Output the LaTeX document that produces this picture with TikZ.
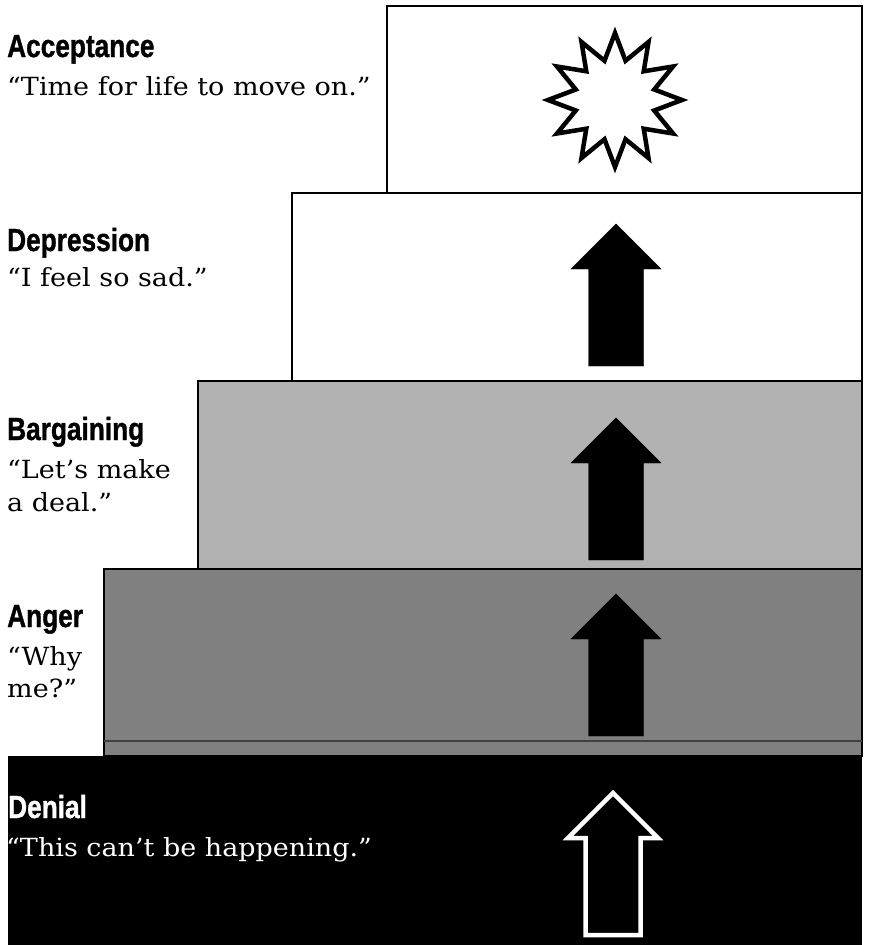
\documentclass[tikz,border=0pt]{standalone}
\usepackage{fontspec}
\usepackage{graphicx}
\setmainfont{DejaVu Serif}[FakeStretch=1.08]
\newfontfamily\headfont{Liberation Sans}[BoldFeatures={FakeBold=1.2}]
\usetikzlibrary{shapes.geometric,positioning}
\definecolor{LightScreen}{gray}{0.70}
\definecolor{DarkScreen}{gray}{0.50}
\definecolor{BandGray}{gray}{0.25}
% up arrow: #1 centre x, #2 tip y, #3 style
\newcommand{\stagearrow}[3]{%
  \draw[#3] (#1,#2) -- ++(45,45) -- ++(-17.5,0) -- ++(0,97) -- ++(-55,0)
    -- ++(0,-97) -- ++(-17.5,0) -- cycle;}

\begin{document}
\begin{tikzpicture}[
      x=1pt,
      y=-1pt,
      stage/.style={draw=black,line width=1.4pt},
      heading/.style={anchor=base west,inner sep=0pt,font=\headfont\bfseries\fontsize{32}{32}\selectfont},
      quote/.style={anchor=base west,inner sep=0pt,font=\fontsize{25}{25}\selectfont},
      solidarrow/.style={fill=black},
      hollowarrow/.style={draw=white,line width=4.5pt,line join=miter}
    ]
      \useasboundingbox (0,0) rectangle (869,945);
      \fill[white] (0,0) rectangle (869,945);
      % the five stages, top to bottom
      \draw[stage] (387,6) rectangle (862,193);
      \draw[stage] (292,193) rectangle (862,381);
      \draw[stage,fill=LightScreen] (198,381) rectangle (862,569);
      \draw[stage,fill=DarkScreen] (104,569) rectangle (862,756);
      \draw[line width=2pt,draw=BandGray] (104,741) -- (862,741);
      \fill[black] (8,756) rectangle (862,945);
      % labels
      \node[heading] (acc) at (7,57) {\scalebox{0.82}[1]{Acceptance}};
      \node[quote] (accq) at (7,95) {“Time for life to move on.”};
      \node[heading] (dep) at (7,251) {\scalebox{0.82}[1]{Depression}};
      \node[quote] (depq) at (7,286) {“I feel so sad.”};
      \node[heading] (bar) at (7,440) {\scalebox{0.82}[1]{Bargaining}};
      \node[quote] (barq) at (7,478) {“Let’s make};
      \node[quote] (barq2) at (7,511) {a deal.”};
      \node[heading] (ang) at (7,627) {\scalebox{0.82}[1]{Anger}};
      \node[quote] (angq) at (7,665) {“Why};
      \node[quote] (angq2) at (7,697) {me?”};
      \node[heading,text=white] (den) at (8,818) {\scalebox{0.82}[1]{Denial}};
      \node[quote,text=white] (denq) at (6,856) {“This can’t be happening.”};
      % symbols
      \node[star,star points=12,star point ratio=1.65,minimum size=134pt,
        draw,line width=4.5pt,inner sep=0pt] (sun) at (615,100) {};
      \stagearrow{616}{224}{solidarrow}
      \stagearrow{616}{418}{solidarrow}
      \stagearrow{616}{594}{solidarrow}
      \stagearrow{613}{793}{hollowarrow}
    \end{tikzpicture}
\end{document}
